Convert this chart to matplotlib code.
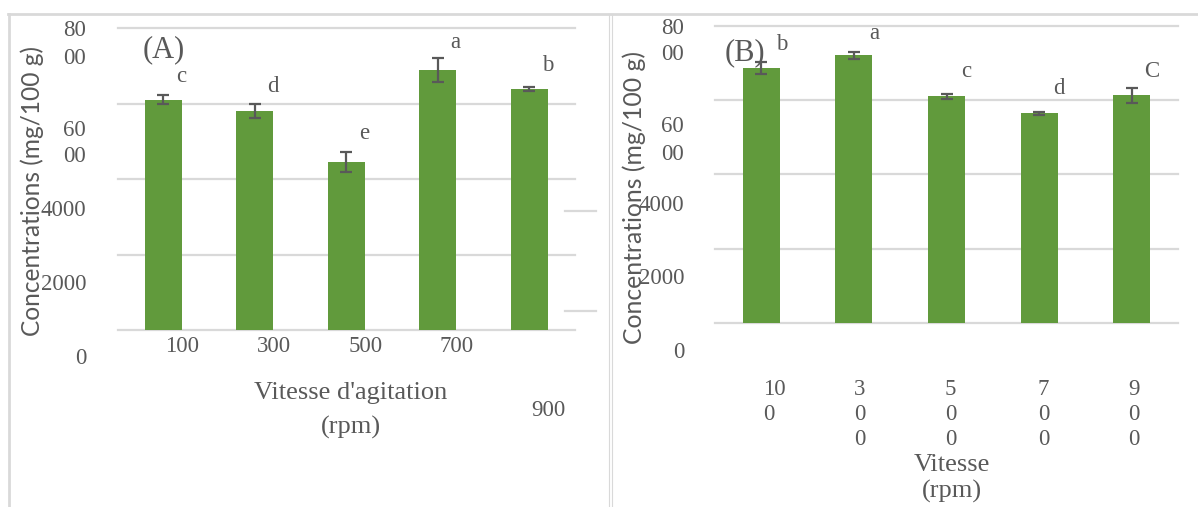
import matplotlib
matplotlib.use('Agg')
import matplotlib.pyplot as plt
from matplotlib.lines import Line2D

# ---------------- data ----------------
speeds_A = ['100', '300', '500', '700', '900']
values_A = [6100, 5810, 4450, 6890, 6385]
errors_A = [120, 180, 260, 325, 55]
letters_A = ['c', 'd', 'e', 'a', 'b']

speeds_B = ['10\n0', '3\n0\n0', '5\n0\n0', '7\n0\n0', '9\n0\n0']
values_B = [6860, 7210, 6105, 5645, 6130]
errors_B = [165, 100, 65, 40, 200]
letters_B = ['b', 'a', 'c', 'd', 'C']

ytick_fragments = ['80', '00', '60', '00', '4000', '2000', '0']
ylabel = 'Concentrations (mg/100 g)'

# ---------------- style ----------------
W, H = 1198, 507
GREY = '#595959'
GRID = '#D9D9D9'
GREEN = '#619A3C'
SERIF = 'Liberation Serif'
SANS = 'Lato'

fig = plt.figure(figsize=(W / 100, H / 100), dpi=100)


def fx(x):
    return x / W


def fy(y):
    return 1 - y / H


def axes_px(l, t, r, b):
    return fig.add_axes([l / W, 1 - b / H, (r - l) / W, (b - t) / H])


def panel(ax, vals, errs, letters, letter_dx, letter_dy):
    x = list(range(len(vals)))
    ax.bar(x, vals, width=0.4, color=GREEN, zorder=2)
    ax.errorbar(x, vals, yerr=errs, fmt='none', ecolor=GREY, elinewidth=1.6,
                capsize=4.5, capthick=1.6, zorder=3)
    ax.set_xlim(-0.5, len(vals) - 0.5)
    ax.set_ylim(0, 8000)
    ax.set_yticks([0, 2000, 4000, 6000, 8000])
    ax.yaxis.grid(True, color=GRID, lw=1.6)
    ax.set_axisbelow(True)
    for gl in ax.get_ygridlines():
        gl.set_clip_on(False)
    ax.tick_params(left=False, bottom=False, labelleft=False, labelbottom=False)
    for s in ax.spines.values():
        s.set_visible(False)
    ax.patch.set_alpha(0)
    for i, (v, e, L) in enumerate(zip(vals, errs, letters)):
        ax.annotate(L, xy=(i, v + e), xytext=(letter_dx, letter_dy[i]),
                    textcoords='offset pixels', ha='center', va='baseline',
                    fontsize=16.5, color=GREY, family=SERIF)


def fig_line(x0, y0, x1, y1, lw=2.0, color=GRID):
    fig.add_artist(Line2D([fx(x0), fx(x1)], [fy(y0), fy(y1)],
                          transform=fig.transFigure, color=color, lw=lw))


# frame lines
fig_line(8, 13.5, 1198, 13.5, lw=2.0)
fig_line(8.5, 13.5, 8.5, 507, lw=2.0)
fig_line(609.3, 14, 609.3, 507, lw=0.8)
fig_line(611.5, 14, 611.5, 507, lw=0.8)
# stray grid stubs
fig_line(565, 211, 596, 211, lw=1.6)
fig_line(565, 311, 596, 311, lw=1.6)

# ---------------- panel A ----------------
axA = axes_px(117.5, 28.3, 575, 330)
panel(axA, values_A, errors_A, letters_A, 18, [13, 12, 13, 10, 16])

# x tick labels A (shifted, last one wrapped down)
tickA_y = [346, 346, 346, 346, 411]
for i, (lab, yy) in enumerate(zip(speeds_A, tickA_y)):
    axA.annotate(lab, xy=(i, H - yy), xycoords=('data', 'figure pixels'),
                 xytext=(19, 0), textcoords='offset pixels',
                 ha='center', va='center', fontsize=16.5, color=GREY, family=SERIF)

fig.text(fx(350.5), fy(393), "Vitesse d'agitation", ha='center', va='center',
         fontsize=19, color=GREY, family=SERIF)
fig.text(fx(350.5), fy(427), "(rpm)", ha='center', va='center',
         fontsize=19, color=GREY, family=SERIF)
fig.text(fx(164), fy(50), "(A)", ha='center', va='center',
         fontsize=22, color=GREY, family=SERIF)

ytA = [30, 58, 130, 157, 210, 285, 358]
for lab, yy in zip(ytick_fragments, ytA):
    fig.text(fx(86), fy(yy), lab, ha='right', va='center',
             fontsize=16.5, color=GREY, family=SERIF)

# ---------------- panel B ----------------
axB = axes_px(715, 26, 1178, 322.7)
panel(axB, values_B, errors_B, letters_B, 20, [12, 13, 17, 18, 11])

tickB_dx = [13, 5.5, 4, 4.5, 2.5]
for i, (lab, dx) in enumerate(zip(speeds_B, tickB_dx)):
    axB.annotate(lab, xy=(i, H - 379), xycoords=('data', 'figure pixels'),
                 xytext=(dx, 0), textcoords='offset pixels',
                 ha='center', va='top', multialignment='left', linespacing=1.25,
                 fontsize=16.5, color=GREY, family=SERIF)

fig.text(fx(951.7), fy(465), "Vitesse", ha='center', va='center',
         fontsize=19, color=GREY, family=SERIF)
fig.text(fx(951.7), fy(491), "(rpm)", ha='center', va='center',
         fontsize=19, color=GREY, family=SERIF)
fig.text(fx(745), fy(53), "(B)", ha='center', va='center',
         fontsize=22, color=GREY, family=SERIF)

ytB = [28, 55, 127, 155, 205, 278, 353]
for lab, yy in zip(ytick_fragments, ytB):
    fig.text(fx(684), fy(yy), lab, ha='right', va='center',
             fontsize=16.5, color=GREY, family=SERIF)

# ---------------- y labels (sans, fitted to length) ----------------
renderer = fig.canvas.get_renderer()
for (cx, cy, length) in [(32, 191.5, 290), (634, 197.5, 292)]:
    t = fig.text(fx(cx), fy(cy), ylabel, rotation=90, ha='center', va='center',
                 rotation_mode='anchor', fontsize=18, color=GREY, family=SANS)
    ext = t.get_window_extent(renderer)
    t.set_fontsize(18 * length / ext.height)

fig.savefig('out.png', dpi=100)
